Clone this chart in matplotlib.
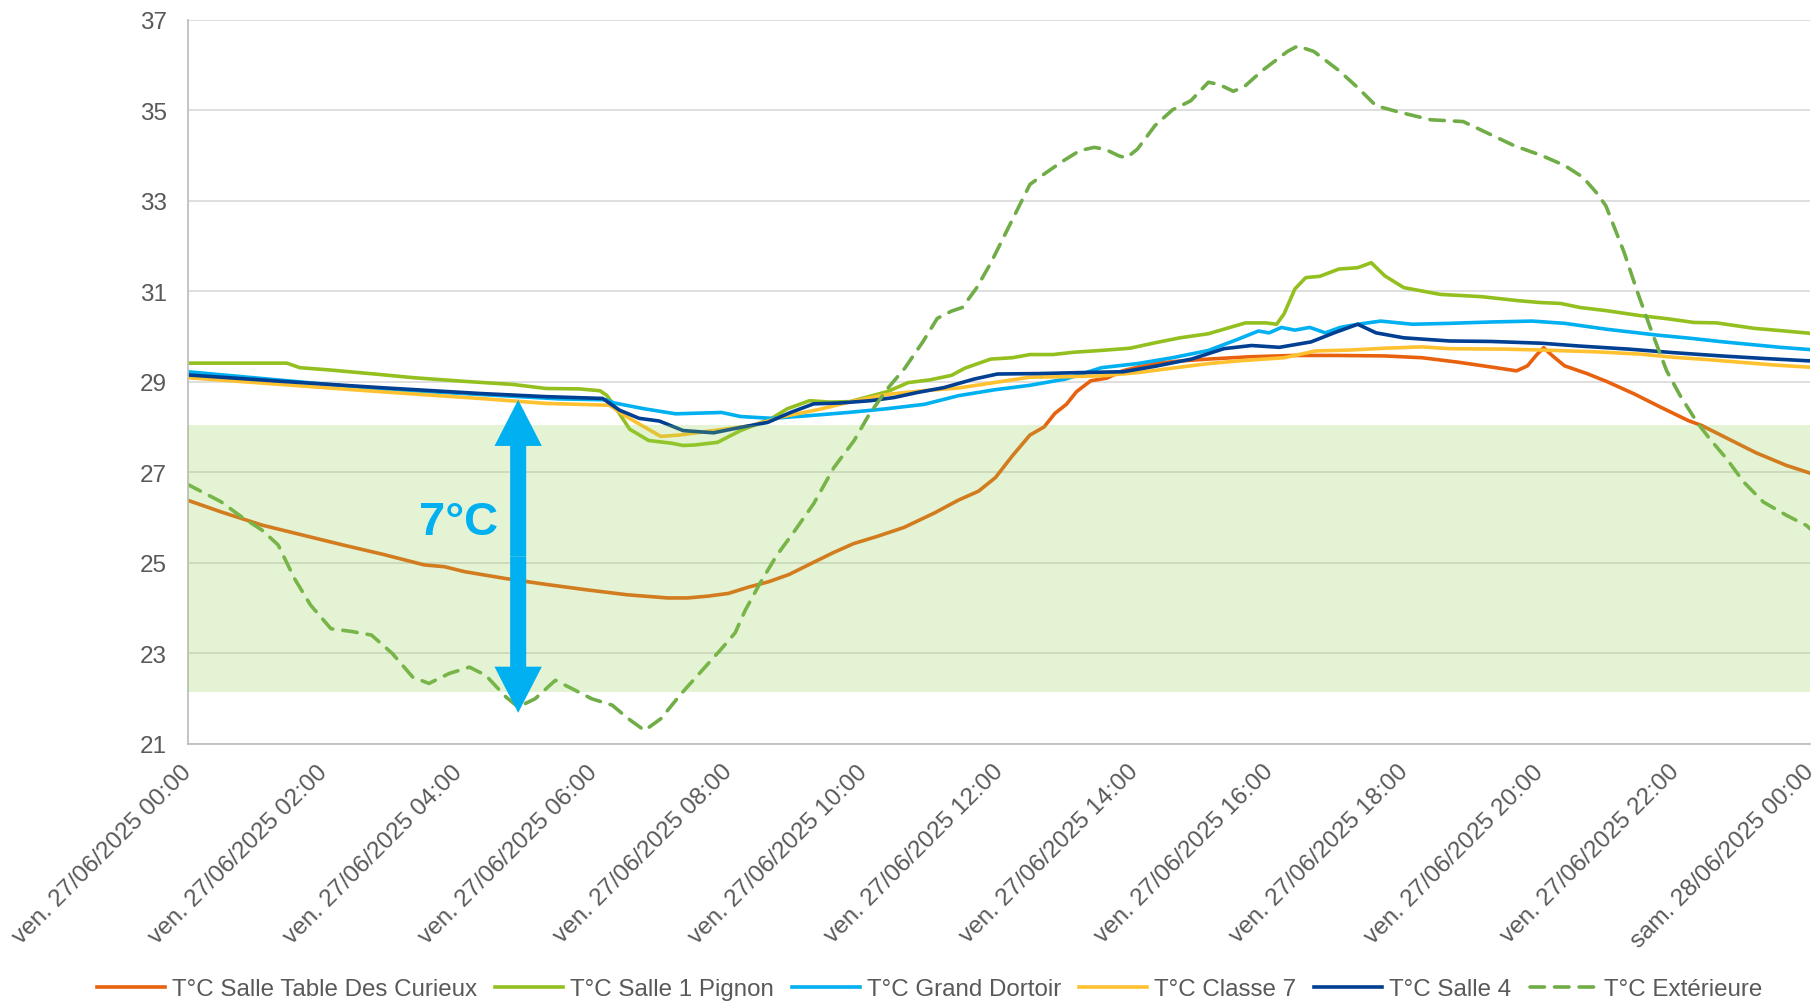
import numpy as np
import matplotlib.pyplot as plt
from matplotlib.patches import FancyArrow
from matplotlib.transforms import ScaledTranslation

plt.rcParams['font.family'] = ['Liberation Sans', 'DejaVu Sans']

# hours since ven. 27/06/2025 00:00, temperatures in °C
h_curieux = [0.0, 0.5, 1.1, 1.7, 2.3, 2.9, 3.5, 3.8, 4.1, 4.7, 5.3, 5.9, 6.5, 7.1, 7.4,
             7.7, 8.0, 8.3, 8.6, 8.9, 9.25, 9.55, 9.85, 10.2, 10.6, 11.05, 11.4, 11.7,
             11.95, 12.2, 12.46, 12.67, 12.83, 13.0, 13.15, 13.36, 13.6, 13.83, 14.05,
             14.35, 14.7, 15.1, 15.7, 16.35, 17.0, 17.7, 18.26, 18.8, 19.35, 19.66,
             19.82, 19.96, 20.06, 20.2, 20.37, 20.7, 21.0, 21.4, 21.8, 22.2, 22.4,
             22.8, 23.2, 23.65, 24.0]
t_curieux = [26.38, 26.12, 25.83, 25.61, 25.39, 25.18, 24.95, 24.91, 24.80, 24.65, 24.52,
             24.40, 24.29, 24.22, 24.22, 24.26, 24.32, 24.46, 24.58, 24.74, 25.0, 25.22,
             25.42, 25.58, 25.78, 26.1, 26.38, 26.58, 26.88, 27.36, 27.82, 28.0, 28.3,
             28.5, 28.78, 29.02, 29.08, 29.24, 29.32, 29.41, 29.46, 29.5, 29.55, 29.58,
             29.58, 29.57, 29.53, 29.43, 29.31, 29.24, 29.35, 29.6, 29.75, 29.56, 29.35,
             29.18, 29.0, 28.73, 28.43, 28.14, 28.03, 27.73, 27.43, 27.15, 26.98]

h_pignon = [0.0, 1.47, 1.66, 2.1, 2.84, 3.33, 4.07, 4.81, 5.3, 5.8, 6.1, 6.2, 6.31, 6.54,
            6.82, 7.16, 7.33, 7.5, 7.84, 8.18, 8.64, 8.87, 9.2, 9.5, 9.8, 10.05, 10.35,
            10.66, 10.98, 11.3, 11.5, 11.88, 12.2, 12.46, 12.8, 13.1, 13.5, 13.94, 14.31,
            14.68, 15.1, 15.42, 15.65, 15.95, 16.11, 16.22, 16.38, 16.54, 16.75, 17.03,
            17.31, 17.51, 17.71, 17.99, 18.53, 19.14, 19.69, 20.01, 20.31, 20.6, 20.99,
            21.49, 21.9, 22.28, 22.62, 23.17, 23.56, 24.0]
t_pignon = [29.41, 29.41, 29.31, 29.26, 29.16, 29.09, 29.01, 28.94, 28.85, 28.84, 28.80,
            28.70, 28.47, 27.95, 27.70, 27.64, 27.59, 27.6, 27.66, 27.92, 28.19, 28.4,
            28.58, 28.55, 28.56, 28.66, 28.78, 28.98, 29.04, 29.14, 29.3, 29.5, 29.53,
            29.6, 29.6, 29.65, 29.69, 29.74, 29.86, 29.97, 30.06, 30.2, 30.3, 30.3, 30.27,
            30.5, 31.05, 31.3, 31.33, 31.49, 31.52, 31.63, 31.34, 31.08, 30.93, 30.88,
            30.79, 30.75, 30.73, 30.64, 30.57, 30.46, 30.39, 30.31, 30.3, 30.18, 30.13,
            30.07]

h_dortoir = [0.0, 1.4, 2.84, 4.3, 4.9, 5.5, 6.19, 6.31, 6.76, 7.22, 7.9, 8.18, 8.64, 9.2,
             9.77, 10.33, 10.9, 11.4, 11.93, 12.46, 12.99, 13.52, 14.05, 14.57, 15.1,
             15.54, 15.84, 16.0, 16.18, 16.38, 16.6, 16.83, 17.05, 17.31, 17.65, 18.12,
             18.67, 19.28, 19.89, 20.37, 20.99, 21.74, 22.23, 22.72, 23.07, 23.56, 24.0]
t_dortoir = [29.22, 29.03, 28.84, 28.72, 28.67, 28.62, 28.6, 28.53, 28.4, 28.29, 28.32,
             28.23, 28.19, 28.25, 28.32, 28.4, 28.5, 28.69, 28.82, 28.92, 29.06, 29.31,
             29.40, 29.53, 29.69, 29.94, 30.12, 30.08, 30.2, 30.14, 30.2, 30.08, 30.2,
             30.27, 30.34, 30.27, 30.29, 30.32, 30.34, 30.29, 30.16, 30.03, 29.96, 29.88,
             29.83, 29.76, 29.71]

h_classe7 = [0.0, 1.37, 2.84, 4.32, 5.3, 6.24, 6.5, 6.78, 7.0, 7.27, 7.78, 8.35, 8.81,
             9.32, 9.82, 10.35, 10.88, 11.4, 11.93, 12.46, 12.99, 13.52, 14.05, 14.57,
             15.1, 15.54, 16.22, 16.69, 17.2, 17.71, 18.26, 18.67, 19.48, 20.03, 20.84,
             21.49, 21.98, 22.47, 22.97, 23.46, 24.0]
t_classe7 = [29.09, 28.94, 28.78, 28.63, 28.52, 28.48, 28.22, 27.98, 27.79, 27.82, 27.92,
             28.03, 28.23, 28.38, 28.56, 28.72, 28.8, 28.86, 28.98, 29.1, 29.11, 29.13,
             29.2, 29.3, 29.4, 29.46, 29.53, 29.68, 29.7, 29.74, 29.77, 29.73, 29.72,
             29.7, 29.66, 29.61, 29.54, 29.49, 29.43, 29.37, 29.32]

h_salle4 = [0.0, 1.37, 2.84, 4.32, 5.3, 6.14, 6.39, 6.68, 6.98, 7.33, 7.78, 8.18, 8.58,
            8.92, 9.26, 9.66, 10.1, 10.45, 10.79, 11.19, 11.64, 11.98, 12.6, 13.16, 13.84,
            14.31, 14.85, 15.33, 15.74, 16.15, 16.62, 16.96, 17.31, 17.58, 17.99, 18.67,
            19.28, 20.03, 20.57, 21.32, 22.0, 22.68, 23.36, 24.0]
t_salle4 = [29.15, 29.01, 28.87, 28.74, 28.67, 28.63, 28.37, 28.19, 28.13, 27.92, 27.87,
            27.99, 28.1, 28.32, 28.51, 28.53, 28.58, 28.65, 28.76, 28.87, 29.06, 29.17,
            29.18, 29.2, 29.22, 29.34, 29.5, 29.73, 29.8, 29.76, 29.88, 30.08, 30.27,
            30.08, 29.97, 29.9, 29.89, 29.85, 29.79, 29.72, 29.64, 29.57, 29.51, 29.46]

h_ext = [0.0, 0.49, 0.8, 1.1, 1.34, 1.58, 1.82, 2.12, 2.42, 2.72, 3.03, 3.33, 3.57, 3.87,
         4.17, 4.41, 4.71, 4.89, 5.14, 5.44, 5.68, 5.98, 6.28, 6.52, 6.76, 7.0, 7.3, 7.6,
         7.9, 8.1, 8.25, 8.47, 8.71, 8.96, 9.26, 9.56, 9.86, 10.08, 10.35, 10.61, 10.88,
         11.09, 11.3, 11.46, 11.67, 11.88, 12.09, 12.3, 12.46, 12.67, 12.94, 13.2, 13.41,
         13.57, 13.78, 13.89, 14.05, 14.31, 14.57, 14.84, 15.1, 15.26, 15.47, 15.63, 15.9,
         16.27, 16.42, 16.66, 17.03, 17.31, 17.58, 17.92, 18.39, 18.87, 19.21, 19.62,
         20.03, 20.37, 20.64, 20.84, 20.98, 21.25, 21.45, 21.66, 21.88, 22.08, 22.33,
         22.52, 22.77, 23.02, 23.31, 23.66, 23.95, 24.0]
t_ext = [26.73, 26.35, 26.01, 25.72, 25.39, 24.65, 24.06, 23.54, 23.48, 23.4, 22.99, 22.47,
         22.33, 22.55, 22.69, 22.51, 22.03, 21.81, 21.99, 22.4, 22.22, 21.99, 21.85, 21.55,
         21.29, 21.55, 22.1, 22.6, 23.1, 23.45, 23.95, 24.55, 25.15, 25.66, 26.3, 27.1,
         27.7, 28.27, 28.84, 29.3, 29.89, 30.4, 30.56, 30.64, 31.07, 31.62, 32.25, 32.88,
         33.36, 33.59, 33.87, 34.11, 34.18, 34.14, 33.99, 33.95, 34.14, 34.66, 35.01,
         35.21, 35.62, 35.57, 35.42, 35.52, 35.88, 36.3, 36.42, 36.3, 35.88, 35.5, 35.1,
         34.96, 34.79, 34.75, 34.51, 34.22, 34.0, 33.78, 33.52, 33.18, 32.89, 31.86,
         30.97, 30.1, 29.24, 28.69, 28.1, 27.73, 27.29, 26.78, 26.34, 26.04, 25.82, 25.75]

tick_hours = list(range(0, 25, 2))
tick_labels = ['ven. 27/06/2025 %02d:00' % h for h in range(0, 24, 2)] + ['sam. 28/06/2025 00:00']
y_ticks = list(range(21, 38, 2))

# comfort band and the 7°C gap marker
band_low, band_high = 22.15, 28.05
gap_x, gap_low, gap_high = 4.89, 21.68, 28.6

W, H = 1816, 1003
fig = plt.figure(figsize=(W / 100, H / 100), dpi=100)
ax = fig.add_axes([187.6 / W, 1 - 744.6 / H, (1810 - 187.6) / W, (744.6 - 20.8) / H])

grey = '#595959'
lw = 2.6
ax.plot(h_curieux, t_curieux, color='#E8610F', lw=lw, label='T°C Salle Table Des Curieux', zorder=2)
ax.plot(h_pignon, t_pignon, color='#93C01F', lw=lw, label='T°C Salle 1 Pignon', zorder=2)
ax.plot(h_dortoir, t_dortoir, color='#00B0F0', lw=lw, label='T°C Grand Dortoir', zorder=2)
ax.plot(h_classe7, t_classe7, color='#FFC12F', lw=lw, label='T°C Classe 7', zorder=2)
ax.plot(h_salle4, t_salle4, color='#003F91', lw=lw, label='T°C Salle 4', zorder=2)
ax.plot(h_ext, t_ext, color='#70AD47', lw=lw, ls=(0, (4, 2.8)), dash_capstyle='round',
        label='T°C Extérieure', zorder=2)

ax.axhspan(band_low, band_high, color='#92D050', alpha=0.25, lw=0, zorder=3)

# double-headed arrow drawn as two halves from the middle
mid = (gap_low + gap_high) / 2
for tip in (gap_high, gap_low):
    ax.add_patch(FancyArrow(gap_x, mid, 0, tip - mid, width=0.237, head_width=0.70,
                            head_length=1.02, length_includes_head=True,
                            color='#00B0F0', lw=0, zorder=4))
ax.text(4.01, 25.9, '7°C', color='#00B0F0', fontsize=34, fontweight='bold',
        ha='center', va='center', zorder=5)

ax.set_xlim(0, 24)
ax.set_ylim(21, 37)
ax.set_yticks(y_ticks)
ax.set_xticks(tick_hours)
ax.set_xticklabels(tick_labels, rotation=45, ha='right', va='top', rotation_mode='anchor')
ax.tick_params(axis='both', length=0, labelsize=17.5, labelcolor=grey)
ax.tick_params(axis='y', pad=15)
ax.tick_params(axis='x', pad=12)
shift = ScaledTranslation(-0.07, 0, fig.dpi_scale_trans)
for lab in ax.get_xticklabels():
    lab.set_transform(lab.get_transform() + shift)

ax.grid(axis='y', color='#D9D9D9', lw=1.2)
ax.set_axisbelow(True)
for side in ('top', 'right'):
    ax.spines[side].set_visible(False)
for side in ('left', 'bottom'):
    ax.spines[side].set_color('#BFBFBF')
    ax.spines[side].set_linewidth(1.3)

leg = fig.legend(loc='center', bbox_to_anchor=(0.512, 0.0125), ncol=6, frameon=False,
                 fontsize=17.4, handlelength=2.8, handletextpad=0.3, columnspacing=0.75)
for txt in leg.get_texts():
    txt.set_color(grey)

fig.savefig('out.png', dpi=100)
